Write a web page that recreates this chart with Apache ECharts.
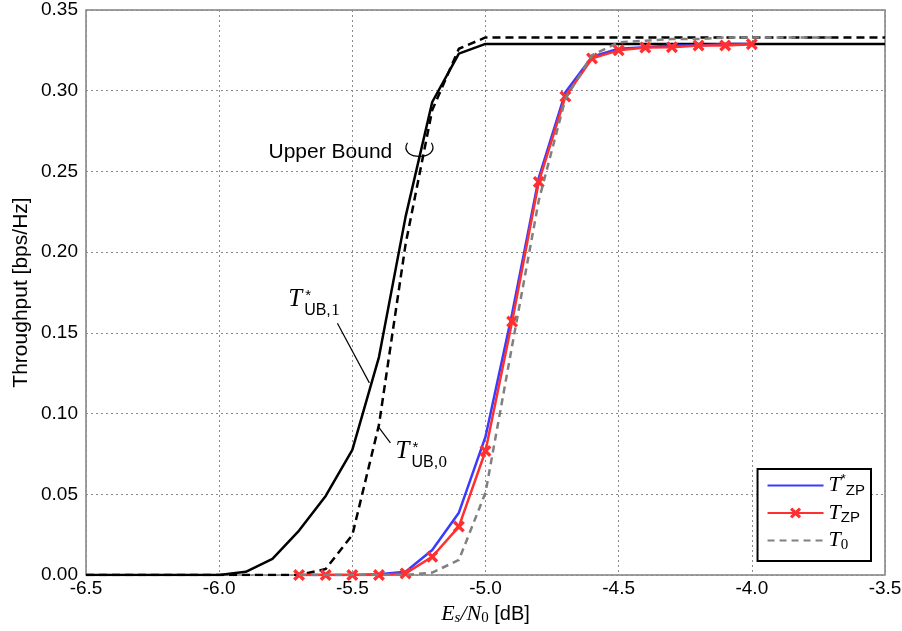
<!DOCTYPE html>
<html>
<head>
<meta charset="utf-8">
<script src="https://cdn.jsdelivr.net/npm/echarts@6/dist/echarts.min.js"></script>
<style>
  html, body { margin: 0; padding: 0; background: #fff; }
  #chart { width: 902px; height: 631px; }
</style>
</head>
<body>
<div id="chart"></div>
<script>
// Es/N0 points of the upper bound curves (flat parts kept sparse)
const ubSnr = [-6.5, -6.0, -5.9, -5.8, -5.7, -5.6, -5.5, -5.4, -5.3, -5.2, -5.1, -5.0, -3.5];
const ub1 = [0, 0, 0.002, 0.010, 0.0275, 0.049, 0.0775, 0.135, 0.222, 0.293, 0.323, 0.329, 0.329];
const ub0 = [0, 0, 0, 0, 0, 0.0037, 0.0248, 0.093, 0.205, 0.288, 0.326, 0.333, 0.333];

// zero padding curves
const zpSnr = [-5.7, -5.6, -5.5, -5.4, -5.3, -5.2, -5.1, -5.0, -4.9, -4.8, -4.7, -4.6, -4.5, -4.4, -4.3, -4.2, -4.1, -4.0];
const zpStar = [0, 0, 0, 0.0005, 0.002, 0.0155, 0.0386, 0.0857, 0.162, 0.246, 0.299, 0.321, 0.326, 0.327, 0.328, 0.328, 0.329, 0.329];
const zp = [0, 0, 0, 0, 0.001, 0.0113, 0.030, 0.0768, 0.157, 0.2435, 0.2964, 0.320, 0.325, 0.3267, 0.327, 0.328, 0.328, 0.3288];

const t0Snr = [-5.7, -5.6, -5.5, -5.4, -5.3, -5.2, -5.1, -5.0, -4.9, -4.8, -4.7, -4.6, -4.5, -4.4, -4.3, -4.2, -4.1, -4.0, -3.9, -3.8, -3.7];
const t0 = [0, 0, 0, 0, 0, 0.0015, 0.0093, 0.051, 0.142, 0.232, 0.295, 0.322, 0.330, 0.331, 0.332, 0.332, 0.333, 0.333, 0.333, 0.333, 0.333];

const xTicks = { min: -6.5, max: -3.5, step: 0.5 };
const yTicks = { min: 0, max: 0.35, step: 0.05 };

const SANS = '"Liberation Sans", Arial, sans-serif';
const SERIF = '"Liberation Serif", "Times New Roman", serif';
const CROSS = 'path://M2,0L5,3L8,0L10,2L7,5L10,8L8,10L5,7L2,10L0,8L3,5L0,2Z';

const pairs = (xs, ys) => xs.map((x, i) => [x, ys[i]]);

const chart = echarts.init(document.getElementById('chart'));

const mathRich = {
  t: { fontFamily: SERIF, fontStyle: 'italic', fontSize: 22, color: '#000' },
  sup: { fontFamily: SANS, fontSize: 13, color: '#000', padding: [0, 0, 12, 0] },
  sub: { fontFamily: SANS, fontSize: 15, color: '#000', padding: [10, 0, 0, 0] },
  subn: { fontFamily: SERIF, fontSize: 15, color: '#000', padding: [10, 0, 0, 0] }
};

const legendText = {
  'T*ZP': '{t|T}{sup|*}{sub|ZP}',
  'TZP': '{t|T}{sub|ZP}',
  'T0': '{t|T}{subn|0}'
};

chart.setOption({
  animation: false,
  backgroundColor: '#fff',
  grid: {
    left: 86, right: 17, top: 10, bottom: 56,
    containLabel: false, outerBoundsMode: 'none',
    show: true, borderColor: '#808080', borderWidth: 1.5
  },
  xAxis: {
    type: 'value',
    min: xTicks.min, max: xTicks.max, interval: xTicks.step,
    axisLine: { show: false },
    axisTick: { show: false },
    axisLabel: {
      fontFamily: SANS, fontSize: 19, color: '#000', margin: 4,
      formatter: v => v.toFixed(1)
    },
    splitLine: { show: true, lineStyle: { color: '#8a8a8a', type: [2, 3], width: 1 } },
    name: '{e|E}{s|s}{e|/N}{z|0}{u| [dB]}',
    nameLocation: 'middle',
    nameGap: 27,
    nameMoveOverlap: false,
    nameTextStyle: {
      rich: {
        e: { fontFamily: SERIF, fontStyle: 'italic', fontSize: 22, color: '#000' },
        s: { fontFamily: SERIF, fontStyle: 'italic', fontSize: 15, color: '#000', padding: [9, 0, 0, 0] },
        z: { fontFamily: SERIF, fontSize: 15, color: '#000', padding: [9, 0, 0, 0] },
        u: { fontFamily: SANS, fontSize: 20, color: '#000' }
      }
    }
  },
  yAxis: {
    type: 'value',
    min: yTicks.min, max: yTicks.max, interval: yTicks.step,
    axisLine: { show: false },
    axisTick: { show: false },
    axisLabel: {
      fontFamily: SANS, fontSize: 19, color: '#000', margin: 8,
      formatter: v => v.toFixed(2)
    },
    splitLine: { show: true, lineStyle: { color: '#8a8a8a', type: [2, 3], width: 1 } },
    name: 'Throughput [bps/Hz]',
    nameLocation: 'middle',
    nameGap: 54,
    nameMoveOverlap: false,
    nameTextStyle: { fontFamily: SANS, fontSize: 21, color: '#000' }
  },
  legend: {
    data: [
      { name: 'T*ZP', itemStyle: { opacity: 0 } },
      { name: 'TZP' },
      { name: 'T0', itemStyle: { opacity: 0 } }
    ],
    orient: 'vertical',
    right: 31, bottom: 70,
    padding: [4, 6, 8, 9],
    itemGap: 4,
    itemWidth: 56,
    itemHeight: 14,
    backgroundColor: '#fff',
    borderColor: '#000',
    borderWidth: 2,
    borderRadius: 0,
    formatter: name => legendText[name],
    textStyle: { rich: mathRich }
  },
  series: [
    {
      name: 'UB1', type: 'line', data: pairs(ubSnr, ub1),
      symbol: 'none', lineStyle: { color: '#000', width: 2.5 }, z: 3
    },
    {
      name: 'UB0', type: 'line', data: pairs(ubSnr, ub0),
      symbol: 'none', lineStyle: { color: '#000', width: 2.5, type: [8, 5] }, z: 3
    },
    {
      name: 'T*ZP', type: 'line', data: pairs(zpSnr, zpStar),
      symbol: 'none', itemStyle: { color: '#3b3bff' },
      lineStyle: { color: '#3b3bff', width: 2.5 }, z: 4
    },
    {
      name: 'TZP', type: 'line', data: pairs(zpSnr, zp),
      symbol: CROSS, symbolSize: 12, showAllSymbol: true,
      itemStyle: { color: '#ff3030' },
      lineStyle: { color: '#ff3030', width: 2.5 }, z: 5
    },
    {
      name: 'T0', type: 'line', data: pairs(t0Snr, t0),
      symbol: 'none', itemStyle: { color: '#808080' },
      lineStyle: { color: '#808080', width: 2.5, type: [7, 5] }, z: 6
    }
  ]
});

// annotations, anchored in data coordinates
const px = (x, y) => chart.convertToPixel({ gridIndex: 0 }, [x, y]);

const boundText = px(-5.35, 0.262);
const boundRing = px(-5.248, 0.264);
const lab1 = px(-5.741, 0.176);
const lead1a = px(-5.556, 0.156);
const lead1b = px(-5.436, 0.119);
const lab0 = px(-5.338, 0.0818);
const lead0a = px(-5.402, 0.0917);
const lead0b = px(-5.357, 0.0818);

function tLabel(pos, num) {
  return {
    type: 'group', x: pos[0], y: pos[1], z: 100,
    children: [
      { type: 'text', x: 0, y: -4, style: { text: 'T', fontFamily: SERIF, fontStyle: 'italic', fontSize: 25, fill: '#000' } },
      { type: 'text', x: 17, y: -3, style: { text: '*', fontFamily: SANS, fontSize: 15, fill: '#000' } },
      { type: 'text', x: 16, y: 12, style: { text: 'UB,', fontFamily: SANS, fontSize: 16, fill: '#000' } },
      { type: 'text', x: 43, y: 11, style: { text: num, fontFamily: SERIF, fontSize: 17, fill: '#000' } }
    ]
  };
}

chart.setOption({
  graphic: [
    {
      type: 'text', x: boundText[0], y: boundText[1], z: 100,
      style: { text: 'Upper Bound', fontFamily: SANS, fontSize: 21, fill: '#000', align: 'right', verticalAlign: 'middle' }
    },
    {
      type: 'bezierCurve', z: 100, x: boundRing[0], y: boundRing[1],
      shape: { x1: -12, y1: -6, cpx1: -22, cpy1: 12, cpx2: 22, cpy2: 12, x2: 12, y2: -6 },
      style: { fill: 'none', stroke: '#000', lineWidth: 1.2 }
    },
    {
      type: 'line', z: 100,
      shape: { x1: lead1a[0], y1: lead1a[1], x2: lead1b[0], y2: lead1b[1] },
      style: { stroke: '#000', lineWidth: 1.2 }
    },
    {
      type: 'line', z: 100,
      shape: { x1: lead0a[0], y1: lead0a[1], x2: lead0b[0], y2: lead0b[1] },
      style: { stroke: '#000', lineWidth: 1.2 }
    },
    tLabel(lab1, '1'),
    tLabel(lab0, '0')
  ]
});
</script>
</body>
</html>
